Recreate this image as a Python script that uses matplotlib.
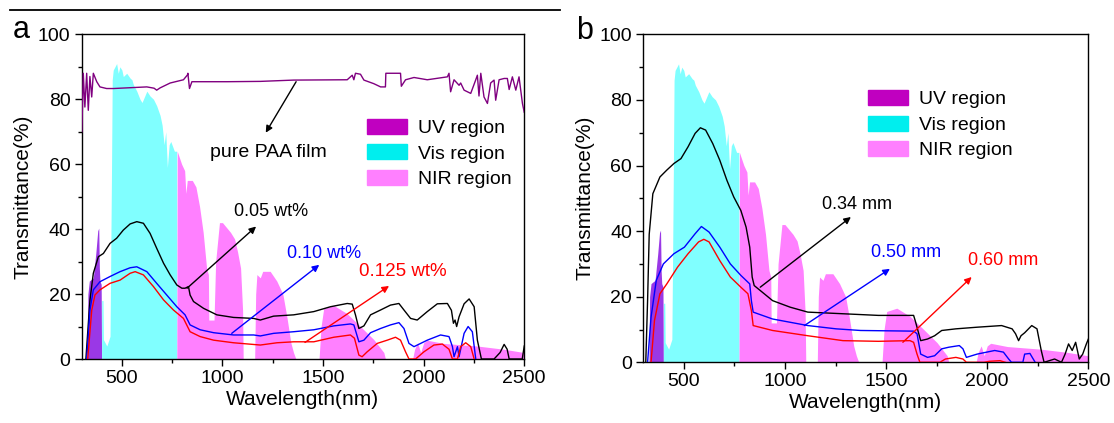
import matplotlib
matplotlib.use("Agg")
import matplotlib.pyplot as plt
from matplotlib.patches import Patch
from matplotlib.lines import Line2D

plt.rcParams['font.family'] = ['Liberation Sans', 'DejaVu Sans']

# solar spectrum (scaled), split into regions
uv_wl = [328, 331, 338, 358, 371, 380, 385, 388, 391, 397, 399]
uv_t = [0, 20, 24, 25, 33, 39.5, 40.3, 28, 24, 23, 0]

vis_wl = [399, 400, 406, 408, 425, 441, 448, 452, 457, 474, 482, 490, 500, 507, 524, 541,
          550, 557, 574, 590, 600, 607, 624, 640, 657, 673, 690, 700, 710, 718, 726, 735,
          743, 761, 772, 773]
vis_t = [0, 18, 18, 6, 4, 7, 55, 86, 89, 91, 88, 90, 89, 87, 88, 86.5,
         86, 84.5, 82.5, 80, 79, 80, 82.5, 81, 80, 78, 75, 72, 66, 70, 59, 66,
         67, 64, 64, 0]

nir_wl = [773, 775, 797, 812, 818, 825, 850, 868, 886, 904, 921, 930, 932, 958, 966, 985,
          1000, 1040, 1060, 1075, 1090, 1100, 1103, 1160, 1165, 1171, 1188, 1200, 1237, 1270,
          1300, 1320, 1340, 1353, 1365, 1480, 1490, 1503, 1553, 1619, 1686, 1752, 1802, 1810,
          1945, 1955, 1970, 1985, 2000, 2017, 2100, 2266, 2400, 2498, 2500]
nir_t = [0, 64, 60, 58, 51, 55, 55, 53, 47, 39, 28, 26, 12, 12, 30, 42,
         42, 39, 37, 33, 28, 15, 0, 0, 20, 26, 25, 27, 27, 24,
         20, 13, 5, 2, 0, 0, 10, 15.5, 16.5, 14, 10, 6, 2, 0,
         0, 3, 5, 2, 5, 5.8, 4.8, 4, 3, 2, 0]

# panel a: pure PAA film and three loadings
paa_wl = [301, 308, 316, 325, 333, 341, 350, 358, 375, 391, 424, 458, 524, 624, 660, 673, 690,
          740, 806, 826, 828, 836, 848, 1022, 1188, 1354, 1620, 1645, 1653, 1661, 1686, 1703,
          1752, 1786, 1810, 1812, 1885, 1889, 1910, 1952, 2018, 2118, 2126, 2134, 2151, 2176,
          2184, 2201, 2234, 2259, 2267, 2275, 2284, 2300, 2317, 2333, 2350, 2358, 2375, 2400,
          2416, 2425, 2441, 2458, 2474, 2491, 2500]
paa_t = [70, 88, 77.6, 88, 76.6, 87, 80.7, 88, 85.4, 83.8, 83.3, 83.3, 83.5, 83.8, 83.4, 82.8, 83.5,
         85, 86, 87.5, 88, 83.3, 85.4, 85.4, 85.5, 85.9, 86, 87.4, 86, 88, 87.7, 85.9,
         84.8, 83.8, 83.8, 88, 88, 84, 86, 86.7, 86, 86.9, 88, 82.3, 86, 84.3,
         85, 82.8, 81.8, 86, 87.4, 81, 88, 80.7, 78.7, 85, 85.9, 79.7, 86, 86.4,
         86.4, 83, 86.9, 82.8, 86.9, 78.7, 76]

a005_wl = [321, 341, 358, 383, 408, 441, 474, 507, 541, 574, 607, 640, 673, 707, 740, 773, 798,
           814, 831, 839, 856, 906, 972, 1055, 1155, 1188, 1254, 1354, 1454, 1537, 1620, 1645,
           1661, 1678, 1703, 1736, 1786, 1835, 1877, 1902, 1935, 1968, 2018, 2068, 2118, 2138,
           2148, 2156, 2164, 2176, 2201, 2226, 2251, 2267, 2287, 2350, 2380, 2400, 2415, 2425,
           2460, 2490, 2500]
a005_t = [0, 18, 26.4, 31.5, 32.5, 35.6, 37.2, 39.7, 41.6, 42.3, 41.8, 38.7, 34.1, 29.5, 25.9, 22.8, 21.8,
          21.8, 22.3, 19.7, 17.7, 15.6, 13.6, 12.8, 12.5, 12, 13.2, 13.6, 14.6, 16.1, 17.1, 16.9,
          13.6, 9.4, 10.2, 13.6, 15.1, 16.6, 17.1, 15.1, 12.5, 12, 14.6, 17, 17.1, 15,
          11, 12, 10, 13, 17, 18.5, 16.1, 5.8, 0, 0, 2, 4.5, 3, 0,
          0, 0, 4]

a010_wl = [325, 341, 358, 391, 441, 491, 541, 574, 624, 673, 723, 773, 814, 839, 889, 956, 1055,
           1155, 1188, 1254, 1354, 1454, 1553, 1636, 1653, 1678, 1703, 1736, 1786, 1835, 1877,
           1902, 1927, 1952, 2018, 2084, 2126, 2143, 2151, 2168, 2176, 2201, 2221, 2242, 2259]
a010_t = [0, 15, 21.3, 23.8, 25.4, 26.9, 28.1, 28.4, 26.9, 23.3, 19.7, 16.1, 13.6, 10.5, 9, 8.1, 7.4,
          7.4, 7.1, 7.9, 8.4, 9, 10.2, 10.8, 10.5, 5.3, 5.8, 8.1, 9.4, 10.5, 11.2,
          9.4, 4.8, 3.8, 5.8, 7.4, 6.9, 3.8, 0.7, 3.8, 0.7, 7.9, 10, 8.4, 0]

a0125_wl = [330, 350, 366, 391, 441, 491, 541, 566, 607, 657, 707, 756, 806, 839, 889, 956, 1055,
            1188, 1271, 1354, 1454, 1553, 1636, 1656, 1678, 1694, 1719, 1769, 1819, 1860, 1885,
            1910, 1927, 1960, 2001, 2051, 2093, 2126, 2143, 2168, 2184, 2209, 2234, 2251]
a0125_t = [0, 15, 19.7, 21.3, 23.3, 24.3, 26.4, 26.9, 25.9, 22.3, 18.2, 15.1, 12.5, 8.4, 6.9, 5.8, 5,
           4.3, 5, 5.3, 5.3, 6.7, 7.4, 6.4, 1.2, 0.7, 2.2, 4.8, 5.8, 6.7, 5.8,
           2.2, 0, 0, 2.2, 4.3, 4.6, 3, 0, 0, 3.8, 5, 3.8, 0]

# panel b: three thicknesses
b034_wl = [312, 321, 329, 347, 382, 416, 451, 486, 521, 556, 582, 608, 643, 678, 713, 747, 782,
           808, 826, 838, 848, 939, 1026, 1113, 1287, 1462, 1636, 1644, 1671, 1705, 1740, 1775,
           1845, 1950, 2071, 2123, 2140, 2155, 2167, 2185, 2220, 2246, 2267, 2281, 2333, 2367,
           2385, 2402, 2420, 2437, 2455, 2472, 2490, 2500]
b034_t = [0, 18.8, 39, 51.4, 56.5, 58.6, 60.6, 62.1, 65.7, 69.8, 71.5, 70.8, 66.7, 61.6, 55.5, 50.4, 46.3,
          41.2, 35.1, 26, 23.4, 18.8, 16.8, 15.3, 14.8, 14.3, 14.3, 12.7, 6.6, 7.1, 8.1, 9.7,
          10.2, 10.7, 11.2, 10.2, 8.7, 6.6, 8.1, 9, 11.2, 10.2, 3.6, 0, 1, 0,
          2.5, 5.6, 3.6, 6.1, 1, 2.5, 5.6, 7.1]

b050_wl = [321, 338, 364, 399, 451, 503, 556, 587, 625, 678, 730, 782, 826, 834, 843, 939, 1026,
           1113, 1253, 1374, 1636, 1653, 1671, 1705, 1740, 1775, 1810, 1862, 1880, 1897, 1950,
           2037, 2080, 2106, 2120, 2176, 2185, 2211, 2237]
b050_t = [0, 13.7, 25, 30, 33.1, 35.1, 39.2, 41.4, 39.7, 35.1, 30, 26.5, 23.9, 18.8, 15.3, 13.2, 12.2,
          11.2, 10.2, 9.7, 9.5, 8.7, 2.5, 1.5, 2, 4.1, 4.6, 5.1, 4.1, 1.5, 2.5,
          3.6, 3.1, 1, 0, 0, 2.5, 2.7, 0]

b060_wl = [338, 355, 382, 416, 469, 521, 573, 599, 625, 678, 730, 782, 817, 834, 843, 939, 1113,
           1287, 1462, 1618, 1636, 1653, 1667, 1766, 1793, 1845, 1880, 1897, 1984, 2010, 2063, 2089]
b060_t = [0, 12.7, 20.9, 23.9, 29, 33.1, 36.7, 37.5, 36.7, 31, 26, 22.9, 20.9, 15.8, 11.2, 9.7, 8.1,
          6.6, 6.4, 6.6, 6.1, 2.5, 0, 0, 1, 1.5, 1, 0, 0, 0.3, 0.5, 0]

fig = plt.figure(figsize=(11.14, 4.23), dpi=100)
ax_a = fig.add_axes([0.0733, 0.1513, 0.3973, 0.7676])
ax_b = fig.add_axes([0.5775, 0.1435, 0.3995, 0.7754])


def draw_base(ax, legend_anchor):
    ax.fill_between(uv_wl, uv_t, color='#9a38e6', lw=0, zorder=1)
    ax.fill_between(vis_wl, vis_t, color='#80ffff', lw=0, zorder=1)
    ax.fill_between(nir_wl, nir_t, color='#ff80ff', lw=0, zorder=1)
    ax.set_xlim(300, 2500)
    ax.set_ylim(0, 100)
    ax.set_xticks([500, 1000, 1500, 2000, 2500])
    ax.set_xticks([750, 1250, 1750, 2250], minor=True)
    ax.set_yticks([0, 20, 40, 60, 80, 100])
    ax.set_yticks([10, 30, 50, 70, 90], minor=True)
    ax.tick_params(which='major', direction='out', length=5, width=1, labelsize=14, pad=3)
    ax.tick_params(which='minor', direction='out', length=3, width=1)
    for s in ax.spines.values():
        s.set_linewidth(1)
    ax.set_xlabel('Wavelength(nm)', fontsize=15, labelpad=2)
    ax.set_ylabel('Transmittance(%)', fontsize=15, labelpad=4)
    handles = [Patch(color='#c000c0'), Patch(color='#00eeee'), Patch(color='#ff80ff')]
    ax.legend(handles, ['UV region', 'Vis region', 'NIR region'], loc='upper left',
              bbox_to_anchor=legend_anchor, frameon=False, fontsize=14,
              handlelength=2.05, handleheight=0.8, labelspacing=0.38, handletextpad=0.55,
              borderpad=0, borderaxespad=0)


def note(ax, text, color, tail, head, pos, size=13):
    ax.annotate('', xy=head, xytext=tail,
                arrowprops=dict(arrowstyle='-|>', color=color, lw=1, mutation_scale=10,
                                shrinkA=0, shrinkB=0), zorder=5)
    ax.text(pos[0], pos[1], text, color=color, fontsize=size, ha='center', va='center', zorder=5)


# panel a
draw_base(ax_a, (0.645, 0.74))
ax_a.plot(paa_wl, paa_t, color='#800080', lw=1, zorder=3)
ax_a.plot(a005_wl, a005_t, color='black', lw=1, zorder=3)
ax_a.plot(a010_wl, a010_t, color='#0000ff', lw=1, zorder=3)
ax_a.plot(a0125_wl, a0125_t, color='#ff0000', lw=1, zorder=3)
note(ax_a, 'pure PAA film', 'black', (1366, 85.4), (1215, 69.7), (1228, 63.7), size=14)
note(ax_a, '0.05 wt%', 'black', (824, 21.8), (1167, 40.8), (1239, 45.3))
note(ax_a, '0.10 wt%', '#0000ff', (1046, 7.9), (1481, 29), (1507, 32.6))
note(ax_a, '0.125 wt%', '#ff0000', (1410, 5.1), (1828, 22.5), (1895, 26.8), size=13.5)

# panel b
draw_base(ax_b, (0.505, 0.83))
ax_b.plot(b034_wl, b034_t, color='black', lw=1, zorder=3)
ax_b.plot(b050_wl, b050_t, color='#0000ff', lw=1, zorder=3)
ax_b.plot(b060_wl, b060_t, color='#ff0000', lw=1, zorder=3)
note(ax_b, '0.34 mm', 'black', (878, 22.9), (1326, 44.3), (1357, 48.2))
note(ax_b, '0.50 mm', '#0000ff', (1096, 11.2), (1519, 28.5), (1597, 33.6))
note(ax_b, '0.60 mm', '#ff0000', (1583, 6.1), (1923, 26), (2080, 31))

fig.text(13 / 1114, 1 - 38 / 423, 'a', fontsize=22, va='baseline')
fig.text(576 / 1114, 1 - 39 / 423, 'b', fontsize=22, va='baseline')
fig.add_artist(Line2D([10 / 1114, 560 / 1114], [1 - 10 / 423, 1 - 10 / 423], color='black', lw=1.3))

fig.savefig('out.png', dpi=100)
